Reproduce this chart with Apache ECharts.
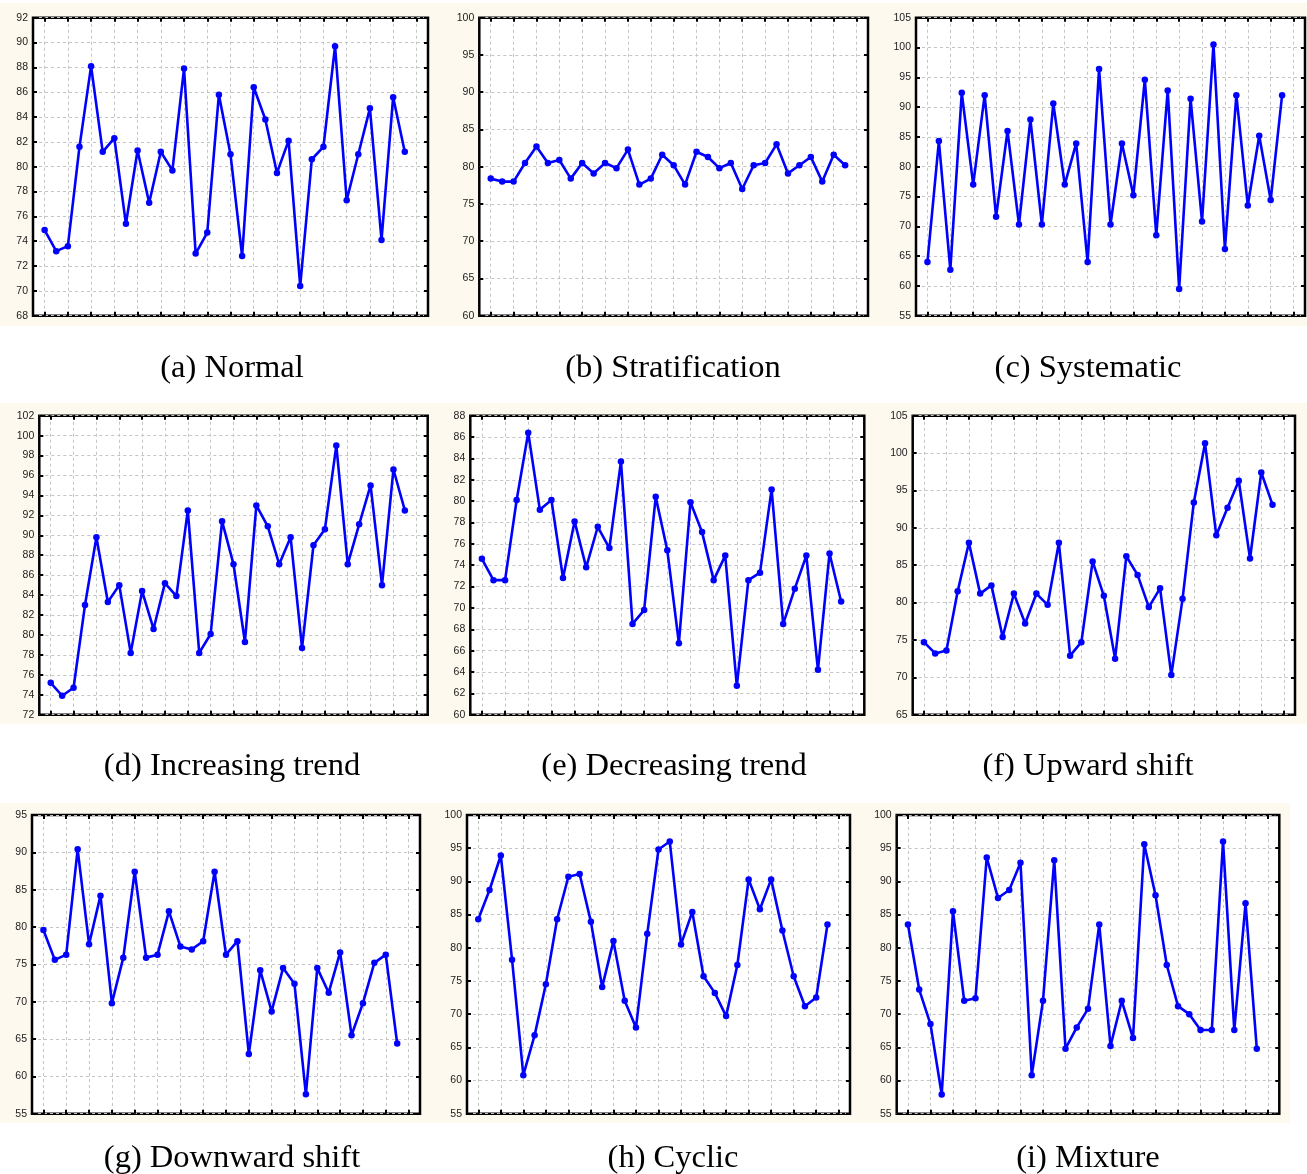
<!DOCTYPE html>
<html>
<head>
<meta charset="utf-8">
<script src="https://cdn.jsdelivr.net/npm/echarts@6/dist/echarts.min.js"></script>
<style>
html,body{margin:0;padding:0;background:#fff;}
#main{width:1307px;height:1174px;}
</style>
</head>
<body>
<div id="main"></div>
<script>
// x positions (category index 0..34; points sit at 1..32)
const xCategories = ['0','1','2','3','4','5','6','7','8','9','10','11','12','13','14','15','16','17','18','19','20','21','22','23','24','25','26','27','28','29','30','31','32','33','34'];

const normal = [74.9,73.2,73.6,81.6,88.1,81.2,82.3,75.4,81.3,77.1,81.2,79.7,87.9,73.0,74.7,85.8,81.0,72.8,86.4,83.8,79.5,82.1,70.4,80.6,81.6,89.7,77.3,81.0,84.7,74.1,85.6,81.2];
const stratification = [78.4,78.0,78.0,80.5,82.7,80.5,80.9,78.4,80.5,79.1,80.5,79.8,82.3,77.6,78.4,81.6,80.2,77.6,82.0,81.3,79.8,80.5,77.0,80.2,80.5,83.0,79.1,80.2,81.3,78.0,81.6,80.2];
const systematic = [64.0,84.3,62.7,92.4,77.0,92.0,71.6,86.0,70.3,87.9,70.3,90.6,77.0,83.9,64.0,96.4,70.3,83.9,75.2,94.6,68.5,92.8,59.5,91.4,70.8,100.5,66.2,92.0,73.5,85.2,74.4,92.0];
const increasing = [75.2,73.9,74.7,83.0,89.8,83.3,85.0,78.2,84.4,80.6,85.2,83.9,92.5,78.2,80.1,91.4,87.1,79.3,93.0,90.9,87.1,89.8,78.7,89.0,90.6,99.0,87.1,91.1,95.0,85.0,96.6,92.5];
const decreasing = [74.6,72.6,72.6,80.1,86.4,79.2,80.1,72.8,78.1,73.8,77.6,75.6,83.7,68.5,69.8,80.4,75.4,66.7,79.9,77.1,72.6,74.9,62.7,72.6,73.3,81.1,68.5,71.8,74.9,64.2,75.1,70.6];
const upward = [74.7,73.2,73.6,81.5,88.0,81.2,82.3,75.4,81.2,77.2,81.2,79.7,88.0,72.9,74.7,85.5,80.9,72.5,86.2,83.7,79.4,81.9,70.3,80.5,93.4,101.3,89.0,92.7,96.3,85.9,97.4,93.1];
const downward = [79.6,75.6,76.3,90.4,77.7,84.2,69.8,75.9,87.4,75.9,76.3,82.1,77.4,77.0,78.1,87.4,76.3,78.1,63.0,74.2,68.7,74.5,72.4,57.6,74.5,71.2,76.6,65.5,69.8,75.2,76.3,64.4];
const cyclic = [84.3,88.7,93.9,78.2,60.8,66.8,74.5,84.3,90.7,91.1,83.9,74.1,81.0,72.0,68.0,82.1,94.8,96.0,80.5,85.4,75.7,73.2,69.7,77.4,90.3,85.8,90.3,82.6,75.7,71.2,72.5,83.5];
const mixture = [83.5,73.7,68.5,57.9,85.5,72.0,72.4,93.6,87.5,88.7,92.8,60.8,72.0,93.2,64.8,68.0,70.8,83.5,65.2,72.0,66.4,95.6,87.9,77.4,71.2,70.0,67.6,67.6,96.0,67.6,86.7,64.8];

const captions = ['(a) Normal','(b) Stratification','(c) Systematic','(d) Increasing trend','(e) Decreasing trend','(f) Upward shift','(g) Downward shift','(h) Cyclic','(i) Mixture'];
const yMins = [68,60,55,72,60,65,55,55,55];
const yMaxs = [92,100,105,102,88,105,95,100,100];
const yIntervals = [2,5,5,2,2,5,5,5,5];
const allSeries = [normal,stratification,systematic,increasing,decreasing,upward,downward,cyclic,mixture];

// layout (pixels)
const grids = [
  {left:33, top:17.7, width:395, height:298},
  {left:479.3, top:17.7, width:388.7, height:298},
  {left:916, top:17.7, width:389, height:298},
  {left:39.3, top:415.7, width:388.4, height:299},
  {left:470.3, top:415.7, width:394, height:299},
  {left:912.7, top:415.7, width:382.3, height:299},
  {left:32, top:815, width:388, height:298.7},
  {left:467, top:815, width:383, height:298.7},
  {left:896.7, top:815, width:382.6, height:298.7}
];
const captionPos = [[232,368],[673,368],[1088,368],[232,766],[674,766],[1088,766],[232,1158],[673,1158],[1088,1158]];

const oddOnly = function(i){ return i % 2 === 1; };
const tickStyle = {show:true, inside:true, length:4, lineStyle:{color:'#000', width:2}};
const dashStyle = {color:'#c4c4c4', type:[3,3], width:1};

const gridOpts = [], xAxes = [], yAxes = [], series = [];
grids.forEach(function(g, k){
  gridOpts.push({left:g.left, top:g.top, width:g.width, height:g.height, show:true,
    backgroundColor:'#ffffff', borderColor:'#000', borderWidth:2.5, containLabel:false});
  xAxes.push({type:'category', gridIndex:k, data:xCategories, boundaryGap:false, position:'bottom',
    axisLine:{show:false}, axisLabel:{show:false},
    axisTick:Object.assign({interval:oddOnly}, tickStyle),
    splitLine:{show:true, interval:oddOnly, lineStyle:dashStyle}});
  xAxes.push({type:'category', gridIndex:k, data:xCategories, boundaryGap:false, position:'top',
    axisLine:{show:false}, axisLabel:{show:false},
    axisTick:Object.assign({interval:oddOnly}, tickStyle),
    splitLine:{show:false}});
  yAxes.push({type:'value', gridIndex:k, min:yMins[k], max:yMaxs[k], interval:yIntervals[k], position:'left',
    axisLine:{show:false}, axisTick:tickStyle,
    axisLabel:{show:true, fontSize:10.5, color:'#222', margin:5, fontFamily:'Liberation Sans, Arial, sans-serif'},
    splitLine:{show:true, lineStyle:dashStyle}});
  yAxes.push({type:'value', gridIndex:k, min:yMins[k], max:yMaxs[k], interval:yIntervals[k], position:'right',
    axisLine:{show:false}, axisTick:tickStyle, axisLabel:{show:false}, splitLine:{show:false}});
  series.push({type:'line', xAxisIndex:2*k, yAxisIndex:2*k,
    data: allSeries[k].map(function(v, i){ return [i+1, v]; }),
    symbol:'circle', symbolSize:6.5, showSymbol:true,
    lineStyle:{color:'#0000ff', width:2.6}, itemStyle:{color:'#0000ff'},
    animation:false, z:5});
});

const graphics = [
  {type:'rect', shape:{x:0, y:3, width:1307, height:323}, style:{fill:'#fdf9ee'}, z:-10, silent:true},
  {type:'rect', shape:{x:0, y:403, width:1307, height:321}, style:{fill:'#fdf9ee'}, z:-10, silent:true},
  {type:'rect', shape:{x:0, y:803, width:1290, height:320}, style:{fill:'#fdf9ee'}, z:-10, silent:true}
];
captions.forEach(function(c, k){
  graphics.push({type:'text', x:captionPos[k][0], y:captionPos[k][1], z:10,
    style:{text:c, fill:'#000', font:'32.5px "Liberation Serif", "Times New Roman", serif', textAlign:'center', textVerticalAlign:'middle'}});
});

const chart = echarts.init(document.getElementById('main'), null, {renderer:'canvas'});
chart.setOption({
  animation:false,
  backgroundColor:'#ffffff',
  graphic:{elements:graphics},
  grid:gridOpts,
  xAxis:xAxes,
  yAxis:yAxes,
  series:series
});
</script>
</body>
</html>
